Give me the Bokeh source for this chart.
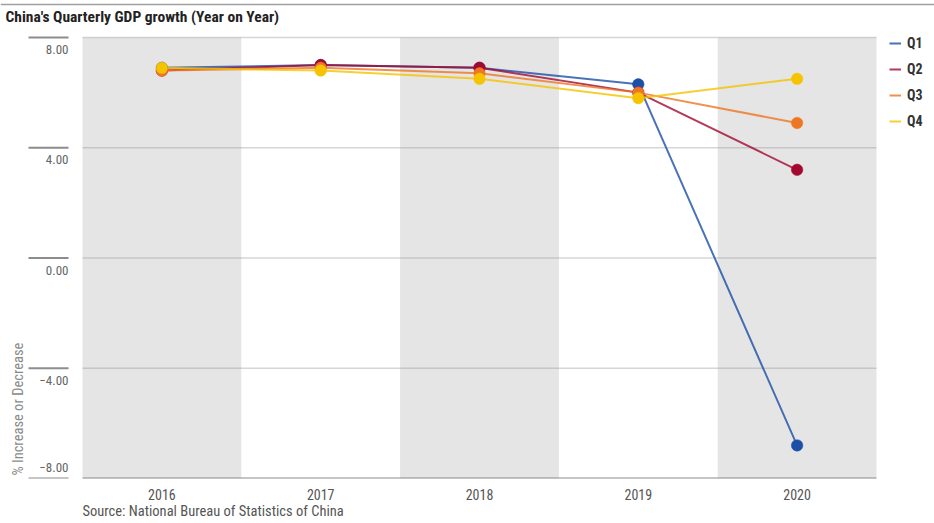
from bokeh.plotting import figure
from bokeh.models import Range1d, FixedTicker, Legend, LegendItem, Title
from bokeh.embed import file_html
from bokeh.resources import INLINE

# ---- data ----
years = ["2016", "2017", "2018", "2019", "2020"]
year_values = [2016, 2017, 2018, 2019, 2020]
q1 = [6.9, 7.0, 6.9, 6.3, -6.8]
q2 = [6.8, 7.0, 6.9, 6.0, 3.2]
q3 = [6.8, 6.9, 6.7, 6.0, 4.9]
q4 = [6.9, 6.8, 6.5, 5.8, 6.5]
series_names = ["Q1", "Q2", "Q3", "Q4"]
y_ticks = [-8, -4, 0, 4, 8]
y_tick_labels = ["\u22128.00", "\u22124.00", "0.00", "4.00", "8.00"]
title_text = "China's Quarterly GDP growth (Year on Year)"
y_title = "% Increase or Decrease"
source_text = "Source: National Bureau of Statistics of China"

# ---- style / layout ----
colors = ["#1c4fa6", "#a3092f", "#ef7622", "#f5c300"]
FONT = "'Roboto Condensed', 'DejaVu Sans Condensed', 'Liberation Sans Narrow', Roboto, sans-serif"
W, H = 934, 523
PL, PR, PT, PB = 82, 876, 37, 478          # plot-area edges in pixels
px_x = (PR - PL) / len(years)               # pixels per year
px_y = (PB - PT) / (y_ticks[-1] - y_ticks[0])  # pixels per percentage point
x_lo = year_values[0] - 0.5
x_hi = year_values[-1] + 0.5
y_lo, y_hi = y_ticks[0], y_ticks[-1]

p = figure(width=W, height=H,
           x_range=Range1d(x_lo - PL / px_x, x_hi + (W - PR) / px_x),
           y_range=Range1d(y_lo, y_hi + PT / px_y),
           output_backend="svg", toolbar_location=None, y_axis_location=None,
           min_border_left=0, min_border_right=0, min_border_top=0,
           min_border_bottom=H - PB)
p.outline_line_color = None
p.background_fill_color = "white"
p.border_fill_color = "white"
p.xgrid.visible = False
p.ygrid.visible = False

# alternating bands
band_years = year_values[0::2]
p.quad(left=[y - 0.5 for y in band_years], right=[y + 0.5 for y in band_years],
       top=y_hi, bottom=y_lo, fill_color="#e5e5e5", line_color=None, level="image")

# grid lines
grid_ticks = [t for t in y_ticks if t != y_lo]
p.segment(x0=x_lo, x1=x_hi, y0=grid_ticks, y1=grid_ticks,
          line_color="#999999", line_alpha=0.4, line_width=1.5, level="underlay")
# bottom axis line
p.segment(x0=x_lo, x1=x_hi, y0=y_lo, y1=y_lo, line_color="#8c8c8c", line_width=2)
# left tick segments
p.segment(x0=x_lo - 54 / px_x, x1=x_lo - 14 / px_x, y0=y_ticks, y1=y_ticks,
          line_color="#8c8c8c", line_width=2)
# y tick labels
p.text(x=[x_lo] * len(y_ticks), y=y_ticks, text=y_tick_labels,
       x_offset=-14, y_offset=[-11 if t == y_lo else 12 for t in y_ticks],
       text_align="right", text_baseline="middle",
       text_font={"value": FONT}, text_font_size="13px", text_color="#666666")
# y-axis title
p.text(x=[x_lo], y=[y_lo], text=[y_title], angle=1.5708, x_offset=-64, y_offset=-3,
       text_align="left", text_baseline="middle",
       text_font={"value": FONT}, text_font_size="14.5px", text_color="#8a8a8a")
# top rule and title
rule_y = y_hi + (PT - 4) / px_y
p.segment(x0=p.x_range.start, x1=p.x_range.end, y0=rule_y, y1=rule_y,
          line_color="#a0a0a0", line_width=1.5)
p.text(x=[x_lo], y=[y_hi], text=[title_text], x_offset=-(PL - 5), y_offset=-21,
       text_align="left", text_baseline="middle",
       text_font={"value": FONT}, text_font_size="15.5px", text_font_style="bold",
       text_color="#222222")

# series
all_series = [q1, q2, q3, q4]
line_renderers = []
for vals, c in zip(all_series, colors):
    line_renderers.append(p.line(year_values, vals, line_color=c, line_width=2, line_alpha=0.8))
for vals, c in zip(all_series, colors):
    p.scatter(year_values, vals, size=11.5, fill_color=c, line_color=c, line_width=0.5)

# legend
items = [LegendItem(label=name, renderers=[r]) for name, r in zip(series_names, line_renderers)]
legend = Legend(items=items, location=(889, PB - 131), padding=0, margin=0, spacing=6,
                glyph_width=12, glyph_height=20, label_height=20, label_standoff=6,
                label_text_font=FONT, label_text_font_size="14px", label_text_font_style="bold",
                label_text_color="#333333", border_line_color=None, background_fill_alpha=0)
p.add_layout(legend, "center")

# x axis
p.xaxis.ticker = FixedTicker(ticks=year_values)
p.xaxis.major_label_overrides = {v: s for v, s in zip(year_values, years)}
p.xaxis.major_tick_line_color = None
p.xaxis.minor_tick_line_color = None
p.xaxis.axis_line_color = None
p.xaxis.major_label_text_color = "#555555"
p.xaxis.major_label_text_font = FONT
p.xaxis.major_label_text_font_size = "14px"
p.xaxis.major_label_standoff = 4

# source note
p.add_layout(Title(text=source_text, align="left", offset=PL, standoff=0,
                   vertical_align="top",
                   text_font=FONT, text_font_size="14.5px", text_font_style="normal",
                   text_color="#555555"), "below")

open("out.html", "w").write(file_html(p, INLINE))
